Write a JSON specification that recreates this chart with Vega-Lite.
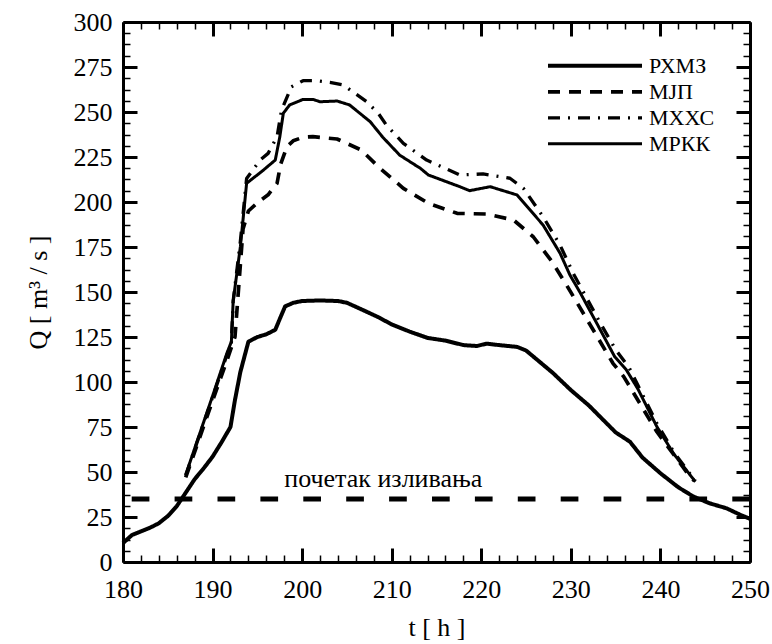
{
  "$schema": "https://vega.github.io/schema/vega-lite/v6.json",
  "width": 627,
  "height": 540,
  "autosize": {"type": "none"},
  "padding": {"left": 123, "top": 22, "right": 22, "bottom": 82},
  "data": {
    "values": [
      {"series": "РХМЗ", "t": 180, "Q": 10.5},
      {"series": "РХМЗ", "t": 181, "Q": 15},
      {"series": "РХМЗ", "t": 182, "Q": 17},
      {"series": "РХМЗ", "t": 183, "Q": 19},
      {"series": "РХМЗ", "t": 184, "Q": 21.5},
      {"series": "РХМЗ", "t": 185, "Q": 25.5},
      {"series": "РХМЗ", "t": 186, "Q": 31},
      {"series": "РХМЗ", "t": 187, "Q": 38.5},
      {"series": "РХМЗ", "t": 188, "Q": 46},
      {"series": "РХМЗ", "t": 189, "Q": 52},
      {"series": "РХМЗ", "t": 190, "Q": 58.5},
      {"series": "РХМЗ", "t": 191, "Q": 66.5},
      {"series": "РХМЗ", "t": 192, "Q": 75},
      {"series": "РХМЗ", "t": 192.5, "Q": 90},
      {"series": "РХМЗ", "t": 193.1, "Q": 105.5},
      {"series": "РХМЗ", "t": 194, "Q": 122.4},
      {"series": "РХМЗ", "t": 195, "Q": 125},
      {"series": "РХМЗ", "t": 196, "Q": 126.5},
      {"series": "РХМЗ", "t": 197, "Q": 129},
      {"series": "РХМЗ", "t": 197.5, "Q": 135},
      {"series": "РХМЗ", "t": 198.1, "Q": 142},
      {"series": "РХМЗ", "t": 199, "Q": 144},
      {"series": "РХМЗ", "t": 200, "Q": 145},
      {"series": "РХМЗ", "t": 202, "Q": 145.3},
      {"series": "РХМЗ", "t": 204, "Q": 145},
      {"series": "РХМЗ", "t": 205, "Q": 144},
      {"series": "РХМЗ", "t": 207, "Q": 139.5},
      {"series": "РХМЗ", "t": 208.5, "Q": 136},
      {"series": "РХМЗ", "t": 210, "Q": 132},
      {"series": "РХМЗ", "t": 212, "Q": 128},
      {"series": "РХМЗ", "t": 214, "Q": 124.5},
      {"series": "РХМЗ", "t": 216, "Q": 123},
      {"series": "РХМЗ", "t": 218, "Q": 120.5},
      {"series": "РХМЗ", "t": 219.5, "Q": 120},
      {"series": "РХМЗ", "t": 220.6, "Q": 121.3},
      {"series": "РХМЗ", "t": 222, "Q": 120.5},
      {"series": "РХМЗ", "t": 224, "Q": 119.5},
      {"series": "РХМЗ", "t": 225, "Q": 117.5},
      {"series": "РХМЗ", "t": 226.2, "Q": 112.5},
      {"series": "РХМЗ", "t": 228, "Q": 105},
      {"series": "РХМЗ", "t": 230, "Q": 95.5},
      {"series": "РХМЗ", "t": 232, "Q": 87},
      {"series": "РХМЗ", "t": 234, "Q": 77},
      {"series": "РХМЗ", "t": 235, "Q": 72},
      {"series": "РХМЗ", "t": 236.6, "Q": 66.8},
      {"series": "РХМЗ", "t": 238, "Q": 58},
      {"series": "РХМЗ", "t": 240, "Q": 49.3},
      {"series": "РХМЗ", "t": 242, "Q": 41.5},
      {"series": "РХМЗ", "t": 243.7, "Q": 36.3},
      {"series": "РХМЗ", "t": 245.5, "Q": 32.6},
      {"series": "РХМЗ", "t": 247.4, "Q": 29.8},
      {"series": "РХМЗ", "t": 249, "Q": 26},
      {"series": "РХМЗ", "t": 250, "Q": 24},
      {"series": "МЈП", "t": 187, "Q": 47},
      {"series": "МЈП", "t": 188.2, "Q": 64},
      {"series": "МЈП", "t": 190.1, "Q": 91},
      {"series": "МЈП", "t": 191.6, "Q": 112},
      {"series": "МЈП", "t": 192.5, "Q": 125},
      {"series": "МЈП", "t": 193.4, "Q": 185},
      {"series": "МЈП", "t": 194, "Q": 195},
      {"series": "МЈП", "t": 195.1, "Q": 200},
      {"series": "МЈП", "t": 196.2, "Q": 204},
      {"series": "МЈП", "t": 197.2, "Q": 210.4},
      {"series": "МЈП", "t": 197.6, "Q": 221},
      {"series": "МЈП", "t": 198.3, "Q": 230.7},
      {"series": "МЈП", "t": 199, "Q": 234},
      {"series": "МЈП", "t": 200.1, "Q": 236},
      {"series": "МЈП", "t": 201.2, "Q": 236.3},
      {"series": "МЈП", "t": 203.9, "Q": 235},
      {"series": "МЈП", "t": 206.6, "Q": 228.9},
      {"series": "МЈП", "t": 208.5, "Q": 219.6},
      {"series": "МЈП", "t": 211.3, "Q": 207.6},
      {"series": "МЈП", "t": 214.1, "Q": 199.3},
      {"series": "МЈП", "t": 217.3, "Q": 193.7},
      {"series": "МЈП", "t": 220.6, "Q": 193.3},
      {"series": "МЈП", "t": 223.6, "Q": 190},
      {"series": "МЈП", "t": 225.8, "Q": 180.7},
      {"series": "МЈП", "t": 227.9, "Q": 166.8},
      {"series": "МЈП", "t": 229.5, "Q": 154},
      {"series": "МЈП", "t": 232.5, "Q": 128.9},
      {"series": "МЈП", "t": 234.7, "Q": 110.4},
      {"series": "МЈП", "t": 235.9, "Q": 103},
      {"series": "МЈП", "t": 237.7, "Q": 88.1},
      {"series": "МЈП", "t": 239.6, "Q": 72.4},
      {"series": "МЈП", "t": 243.3, "Q": 47.4},
      {"series": "МЈП", "t": 243.8, "Q": 45},
      {"series": "МХХС", "t": 187, "Q": 48},
      {"series": "МХХС", "t": 188.2, "Q": 65.5},
      {"series": "МХХС", "t": 190.1, "Q": 93},
      {"series": "МХХС", "t": 191.6, "Q": 115},
      {"series": "МХХС", "t": 192.1, "Q": 122},
      {"series": "МХХС", "t": 192.3, "Q": 145},
      {"series": "МХХС", "t": 193.1, "Q": 178},
      {"series": "МХХС", "t": 193.8, "Q": 213},
      {"series": "МХХС", "t": 195.3, "Q": 223.3},
      {"series": "МХХС", "t": 196.2, "Q": 227},
      {"series": "МХХС", "t": 197.2, "Q": 236.3},
      {"series": "МХХС", "t": 197.7, "Q": 251},
      {"series": "МХХС", "t": 198.8, "Q": 264},
      {"series": "МХХС", "t": 200.1, "Q": 267.4},
      {"series": "МХХС", "t": 201.6, "Q": 267.4},
      {"series": "МХХС", "t": 203.1, "Q": 266.5},
      {"series": "МХХС", "t": 204.6, "Q": 265},
      {"series": "МХХС", "t": 207.2, "Q": 255.7},
      {"series": "МХХС", "t": 208.5, "Q": 249.3},
      {"series": "МХХС", "t": 209.4, "Q": 242.8},
      {"series": "МХХС", "t": 211.3, "Q": 232.6},
      {"series": "МХХС", "t": 213.9, "Q": 223.3},
      {"series": "МХХС", "t": 217.6, "Q": 215},
      {"series": "МХХС", "t": 220.2, "Q": 215.6},
      {"series": "МХХС", "t": 223.2, "Q": 213.2},
      {"series": "МХХС", "t": 224.7, "Q": 207.6},
      {"series": "МХХС", "t": 226.9, "Q": 191.8},
      {"series": "МХХС", "t": 228.8, "Q": 176},
      {"series": "МХХС", "t": 230.3, "Q": 160},
      {"series": "МХХС", "t": 233.3, "Q": 132.6},
      {"series": "МХХС", "t": 235, "Q": 118},
      {"series": "МХХС", "t": 236.5, "Q": 108},
      {"series": "МХХС", "t": 237.5, "Q": 98},
      {"series": "МХХС", "t": 239.6, "Q": 77},
      {"series": "МХХС", "t": 241.5, "Q": 61},
      {"series": "МХХС", "t": 243.9, "Q": 45},
      {"series": "МРКК", "t": 187, "Q": 48.5},
      {"series": "МРКК", "t": 188.2, "Q": 66},
      {"series": "МРКК", "t": 190.1, "Q": 93.7},
      {"series": "МРКК", "t": 191.6, "Q": 116},
      {"series": "МРКК", "t": 192.1, "Q": 122.4},
      {"series": "МРКК", "t": 192.3, "Q": 145},
      {"series": "МРКК", "t": 193.1, "Q": 175},
      {"series": "МРКК", "t": 193.8, "Q": 210.4},
      {"series": "МРКК", "t": 195.5, "Q": 217},
      {"series": "МРКК", "t": 197, "Q": 223.3},
      {"series": "МРКК", "t": 197.5, "Q": 236},
      {"series": "МРКК", "t": 197.9, "Q": 249.3},
      {"series": "МРКК", "t": 198.6, "Q": 253.9},
      {"series": "МРКК", "t": 200.1, "Q": 257},
      {"series": "МРКК", "t": 201.2, "Q": 257},
      {"series": "МРКК", "t": 202, "Q": 255.7},
      {"series": "МРКК", "t": 203.9, "Q": 256.1},
      {"series": "МРКК", "t": 205.3, "Q": 253.9},
      {"series": "МРКК", "t": 207.6, "Q": 244.6},
      {"series": "МРКК", "t": 209, "Q": 236},
      {"series": "МРКК", "t": 210.9, "Q": 226},
      {"series": "МРКК", "t": 213.2, "Q": 218.7},
      {"series": "МРКК", "t": 214.1, "Q": 215},
      {"series": "МРКК", "t": 217.6, "Q": 208.5},
      {"series": "МРКК", "t": 218.7, "Q": 206.3},
      {"series": "МРКК", "t": 221, "Q": 208.5},
      {"series": "МРКК", "t": 224, "Q": 203.9},
      {"series": "МРКК", "t": 226.9, "Q": 187.2},
      {"series": "МРКК", "t": 228.8, "Q": 171.5},
      {"series": "МРКК", "t": 229.9, "Q": 159.4},
      {"series": "МРКК", "t": 231, "Q": 150},
      {"series": "МРКК", "t": 233.1, "Q": 130.7},
      {"series": "МРКК", "t": 234.9, "Q": 114},
      {"series": "МРКК", "t": 236.2, "Q": 106.7},
      {"series": "МРКК", "t": 237.5, "Q": 96},
      {"series": "МРКК", "t": 239.6, "Q": 75.2},
      {"series": "МРКК", "t": 241.5, "Q": 60},
      {"series": "МРКК", "t": 243.9, "Q": 44.6},
      {"series": "threshold", "Q": 35},
      {"series": "note", "t": 209.06, "Q": 41.8, "label": "почетак изливања"}
    ]
  },
  "layer": [
    {
      "transform": [{"filter": "datum.series === 'РХМЗ'"}],
      "mark": {"type": "line", "color": "black", "strokeJoin": "round"},
      "encoding": {
        "x": {
          "field": "t", "type": "quantitative",
          "scale": {"domain": [180, 250], "nice": false, "zero": false},
          "axis": {
            "orient": "bottom", "grid": false,
            "values": [180, 190, 200, 210, 220, 230, 240, 250],
            "tickSize": -14, "tickWidth": 3, "tickColor": "black",
            "domainWidth": 3, "domainColor": "black",
            "labelFontSize": 26, "labelFont": "Liberation Serif", "labelColor": "black",
            "labelPadding": 28, "labelFlush": false,
            "title": "t [ h ]", "titleFont": "Liberation Serif", "titleFontSize": 26, "titleFontWeight": "normal", "titleColor": "black", "titlePadding": 12
          }
        },
        "y": {
          "field": "Q", "type": "quantitative",
          "scale": {"domain": [0, 300], "nice": false},
          "axis": {
            "orient": "left", "grid": false,
            "values": [0, 25, 50, 75, 100, 125, 150, 175, 200, 225, 250, 275, 300],
            "tickSize": -14, "tickWidth": 3, "tickColor": "black",
            "domainWidth": 3, "domainColor": "black",
            "labelFontSize": 26, "labelFont": "Liberation Serif", "labelColor": "black",
            "labelPadding": 25, "labelFlush": false,
            "title": "Q [ m³ / s ]", "titleFont": "Liberation Serif", "titleFontSize": 26, "titleFontWeight": "normal", "titleColor": "black", "titlePadding": 22
          }
        },
        "strokeDash": {
          "field": "series", "type": "nominal",
          "scale": {"domain": ["РХМЗ", "МЈП", "МХХС", "МРКК"], "range": [[1, 0], [12, 9], [12, 8, 2, 8], [1, 0]]},
          "legend": {
            "orient": "none", "legendX": 423, "legendY": 31, "title": null,
            "padding": 0, "rowPadding": 0, "clipHeight": 25.7,
            "symbolType": "stroke", "symbolSize": 8836, "symbolOffset": 0,
            "symbolStrokeColor": "black",
            "labelOffset": 5, "labelFontSize": 22, "labelFont": "Liberation Serif", "labelColor": "black", "labelBaseline": "middle"
          }
        },
        "strokeWidth": {
          "field": "series", "type": "nominal",
          "scale": {"domain": ["РХМЗ", "МЈП", "МХХС", "МРКК"], "range": [4, 3, 3, 2.5]},
          "legend": {
            "orient": "none", "legendX": 423, "legendY": 31, "title": null,
            "padding": 0, "rowPadding": 0, "clipHeight": 25.7,
            "symbolType": "stroke", "symbolSize": 8836, "symbolOffset": 0,
            "symbolStrokeColor": "black",
            "labelOffset": 5, "labelFontSize": 22, "labelFont": "Liberation Serif", "labelColor": "black", "labelBaseline": "middle"
          }
        }
      }
    },
    {
      "transform": [{"filter": "datum.series === 'МЈП'"}],
      "mark": {"type": "line", "color": "black", "strokeJoin": "round"},
      "encoding": {
        "x": {
          "field": "t", "type": "quantitative",
          "axis": {
            "orient": "bottom", "grid": false,
            "values": [182,184,186,188,192,194,196,198,202,204,206,208,212,214,216,218,222,224,226,228,232,234,236,238,242,244,246,248],
            "tickSize": -7, "tickWidth": 1.5, "tickColor": "black",
            "domain": false, "labels": false, "title": null
          }
        },
        "y": {
          "field": "Q", "type": "quantitative",
          "axis": {
            "orient": "left", "grid": false,
            "values": [6.25,12.5,18.75,31.25,37.5,43.75,56.25,62.5,68.75,81.25,87.5,93.75,106.25,112.5,118.75,131.25,137.5,143.75,156.25,162.5,168.75,181.25,187.5,193.75,206.25,212.5,218.75,231.25,237.5,243.75,256.25,262.5,268.75,281.25,287.5,293.75],
            "tickSize": -7, "tickWidth": 1.5, "tickColor": "black",
            "domain": false, "labels": false, "title": null
          }
        },
        "strokeDash": {"field": "series", "type": "nominal"},
        "strokeWidth": {"field": "series", "type": "nominal"}
      }
    },
    {
      "transform": [{"filter": "datum.series === 'МХХС'"}],
      "mark": {"type": "line", "color": "black", "strokeJoin": "round"},
      "encoding": {
        "x": {
          "field": "t", "type": "quantitative",
          "axis": {
            "orient": "top", "grid": false,
            "values": [180, 190, 200, 210, 220, 230, 240, 250],
            "tickSize": -14, "tickWidth": 3, "tickColor": "black",
            "domainWidth": 3, "domainColor": "black",
            "labels": false, "title": null
          }
        },
        "y": {
          "field": "Q", "type": "quantitative",
          "axis": {
            "orient": "right", "grid": false,
            "values": [0, 25, 50, 75, 100, 125, 150, 175, 200, 225, 250, 275, 300],
            "tickSize": -14, "tickWidth": 3, "tickColor": "black",
            "domainWidth": 3, "domainColor": "black",
            "labels": false, "title": null
          }
        },
        "strokeDash": {"field": "series", "type": "nominal"},
        "strokeWidth": {"field": "series", "type": "nominal"}
      }
    },
    {
      "transform": [{"filter": "datum.series === 'МРКК'"}],
      "mark": {"type": "line", "color": "black", "strokeJoin": "round"},
      "encoding": {
        "x": {
          "field": "t", "type": "quantitative",
          "axis": {
            "orient": "top", "grid": false,
            "values": [182,184,186,188,192,194,196,198,202,204,206,208,212,214,216,218,222,224,226,228,232,234,236,238,242,244,246,248],
            "tickSize": -7, "tickWidth": 1.5, "tickColor": "black",
            "domain": false, "labels": false, "title": null
          }
        },
        "y": {
          "field": "Q", "type": "quantitative",
          "axis": {
            "orient": "right", "grid": false,
            "values": [6.25,12.5,18.75,31.25,37.5,43.75,56.25,62.5,68.75,81.25,87.5,93.75,106.25,112.5,118.75,131.25,137.5,143.75,156.25,162.5,168.75,181.25,187.5,193.75,206.25,212.5,218.75,231.25,237.5,243.75,256.25,262.5,268.75,281.25,287.5,293.75],
            "tickSize": -7, "tickWidth": 1.5, "tickColor": "black",
            "domain": false, "labels": false, "title": null
          }
        },
        "strokeDash": {"field": "series", "type": "nominal"},
        "strokeWidth": {"field": "series", "type": "nominal"}
      }
    },
    {
      "transform": [{"filter": "datum.series === 'threshold'"}],
      "mark": {"type": "rule", "color": "black", "strokeWidth": 5, "strokeDash": [17.7, 25.2]},
      "encoding": {
        "y": {"field": "Q", "type": "quantitative", "axis": null}
      }
    },
    {
      "transform": [{"filter": "datum.series === 'note'"}],
      "mark": {"type": "text", "color": "black", "font": "Liberation Serif", "fontSize": 26, "align": "center", "baseline": "alphabetic"},
      "encoding": {
        "x": {"field": "t", "type": "quantitative", "axis": null},
        "y": {"field": "Q", "type": "quantitative", "axis": null},
        "text": {"field": "label"}
      }
    }
  ],
  "resolve": {"axis": {"x": "independent", "y": "independent"}}
}
